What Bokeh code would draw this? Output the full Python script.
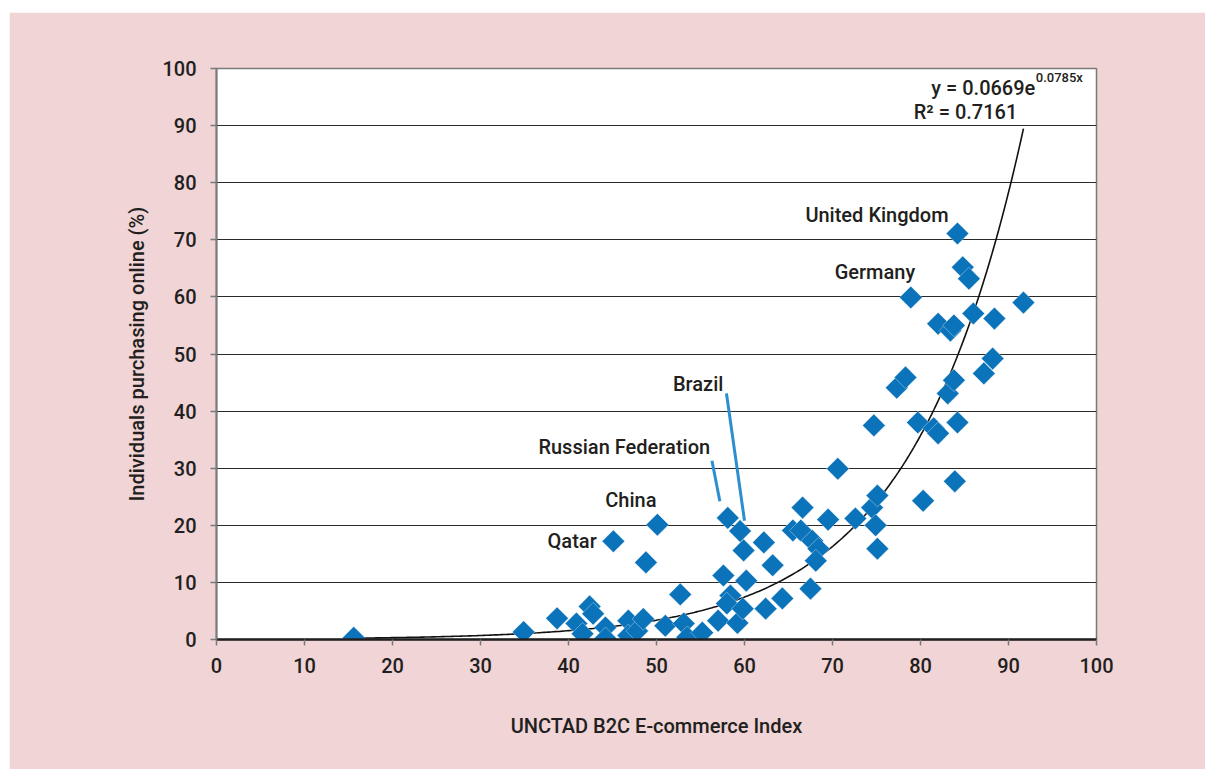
import numpy as np
from bokeh.plotting import figure
from bokeh.models import Label, Range1d, SingleIntervalTicker, ColumnDataSource
from bokeh.embed import file_html
from bokeh.resources import INLINE

# ---- data ----
b2c_index = [15.6, 34.9, 38.7, 40.9, 41.6, 42.4, 42.8, 44.2, 44.2, 45.1,
             46.8, 46.8, 47.8, 48.5, 48.8, 50.1, 51.0, 52.7, 53.1, 53.5,
             55.2, 57.0, 57.6, 58.1, 58.4, 58.0, 59.2, 59.5, 59.9, 59.8,
             60.2, 62.2, 62.4, 63.2, 64.3, 65.5, 66.4, 66.6, 67.5, 67.7,
             68.4, 68.1, 69.5, 70.6, 72.6, 74.5, 74.7, 74.9, 75.1, 75.1,
             77.3, 78.3, 78.9, 79.7, 80.3, 81.5, 82.0, 82.0, 83.1, 83.4,
             83.8, 83.8, 83.9, 84.2, 84.2, 84.8, 85.5, 86.0, 87.2, 88.2,
             88.4, 91.7]
purchasing_online = [0.3, 1.3, 3.7, 2.8, 1.0, 5.8, 4.5, 2.1, 0.2, 17.2,
                     3.3, 0.7, 1.5, 3.6, 13.5, 20.1, 2.4, 7.9, 2.8, 0.4,
                     1.2, 3.3, 11.2, 21.3, 7.7, 6.3, 2.9, 19.0, 15.6, 5.4,
                     10.3, 17.0, 5.4, 13.0, 7.2, 19.1, 19.1, 23.1, 8.9, 17.3,
                     15.9, 13.8, 21.0, 29.9, 21.2, 23.1, 37.5, 20.0, 25.2, 15.9,
                     44.1, 45.9, 59.9, 38.0, 24.3, 37.0, 36.1, 55.3, 43.1, 54.1,
                     55.0, 45.4, 27.7, 38.0, 71.1, 65.2, 63.2, 57.1, 46.6, 49.2,
                     56.2, 59.0]

x_ticks = list(range(0, 101, 10))
y_ticks = list(range(0, 101, 10))

trend_a = 0.0669
trend_b = 0.0785
r_squared = 0.7161

country_names = ["United Kingdom", "Germany", "Brazil", "Russian Federation", "China", "Qatar"]

FONT = "'Roboto Medium', Roboto"
PINK = "#f0d4d6"
BLUE = "#0b73ba"
TXT = "#231f20"

p = figure(width=1196, height=757, output_backend="svg", toolbar_location=None,
           x_range=Range1d(0, 100), y_range=Range1d(0, 100),
           min_border_left=207, min_border_right=109, min_border_top=56, min_border_bottom=130,
           background_fill_color="white", border_fill_color=PINK)
p.margin = (12, 0, 0, 9)
p.outline_line_color = "#7a7a7a"
p.outline_line_width = 1.5

# axes
p.xaxis.ticker = SingleIntervalTicker(interval=10)
p.yaxis.ticker = SingleIntervalTicker(interval=10)
for ax in (p.xaxis[0], p.yaxis[0]):
    ax.major_label_text_font = FONT
    ax.major_label_text_font_size = "20px"
    ax.major_label_text_color = TXT
    ax.axis_label_text_font = FONT
    ax.axis_label_text_font_size = "20px"
    ax.axis_label_text_font_style = "normal"
    ax.axis_label_text_color = TXT
    ax.major_tick_out = 6
    ax.major_tick_in = 0
    ax.minor_tick_out = 0
    ax.minor_tick_in = 0
    ax.major_tick_line_color = "#7a7a7a"
    ax.major_tick_line_width = 1.5

p.xaxis.axis_line_color = "#231f20"
p.xaxis.axis_line_width = 2.5
p.yaxis.axis_line_color = "#7a7a7a"
p.yaxis.axis_line_width = 2
p.xaxis.axis_label = "UNCTAD B2C E-commerce Index"
p.yaxis.axis_label = "Individuals purchasing online (%)"
p.xaxis.major_label_standoff = 12
p.yaxis.major_label_standoff = 14
p.xaxis.axis_label_standoff = 38
p.yaxis.axis_label_standoff = 10

p.xgrid.grid_line_color = None
p.ygrid.grid_line_color = "#2a2a2a"
p.ygrid.grid_line_width = 1.2
p.ygrid.ticker = SingleIntervalTicker(interval=10)

# trend line from the equation shown in the chart
tx = np.linspace(min(b2c_index), max(b2c_index), 300)
ty = trend_a * np.exp(trend_b * tx)
p.line(tx, ty, line_color="#111111", line_width=1.6)

# points
src = ColumnDataSource(dict(x=b2c_index, y=purchasing_online))
p.scatter("x", "y", source=src, marker="square", angle=np.pi / 4, size=16,
          fill_color=BLUE, line_color="#ffffff", line_alpha=0.35, line_width=1)

# leader lines
p.line([57.95, 60.0], [43.1, 20.8], line_color="#2b8ed0", line_width=3)
p.line([56.3, 57.2], [31.3, 24.2], line_color="#2b8ed0", line_width=3)

# country labels
lab_pos = [(83.2, 74.3), (79.4, 64.4), (57.6, 44.8), (56.1, 33.8), (50.0, 24.5), (43.2, 17.2)]
for name, (lx, ly) in zip(country_names, lab_pos):
    p.add_layout(Label(x=lx, y=ly, text=name, text_align="right", text_baseline="middle",
                       text_font=FONT, text_font_size="20px", text_color=TXT))

# equation
p.add_layout(Label(x=93.05, y=96.6, text=f"y = {trend_a}e", text_align="right",
                   text_baseline="middle", text_font=FONT, text_font_size="20px", text_color=TXT))
p.add_layout(Label(x=93.1, y=98.5, text=f"{trend_b}x", text_align="left",
                   text_baseline="middle", text_font=FONT, text_font_size="13px", text_color=TXT))
p.add_layout(Label(x=91.0, y=92.4, text=f"R\u00b2 = {r_squared}", text_align="right",
                   text_baseline="middle", text_font=FONT, text_font_size="20px", text_color=TXT))

open("out.html", "w").write(file_html(p, INLINE))
